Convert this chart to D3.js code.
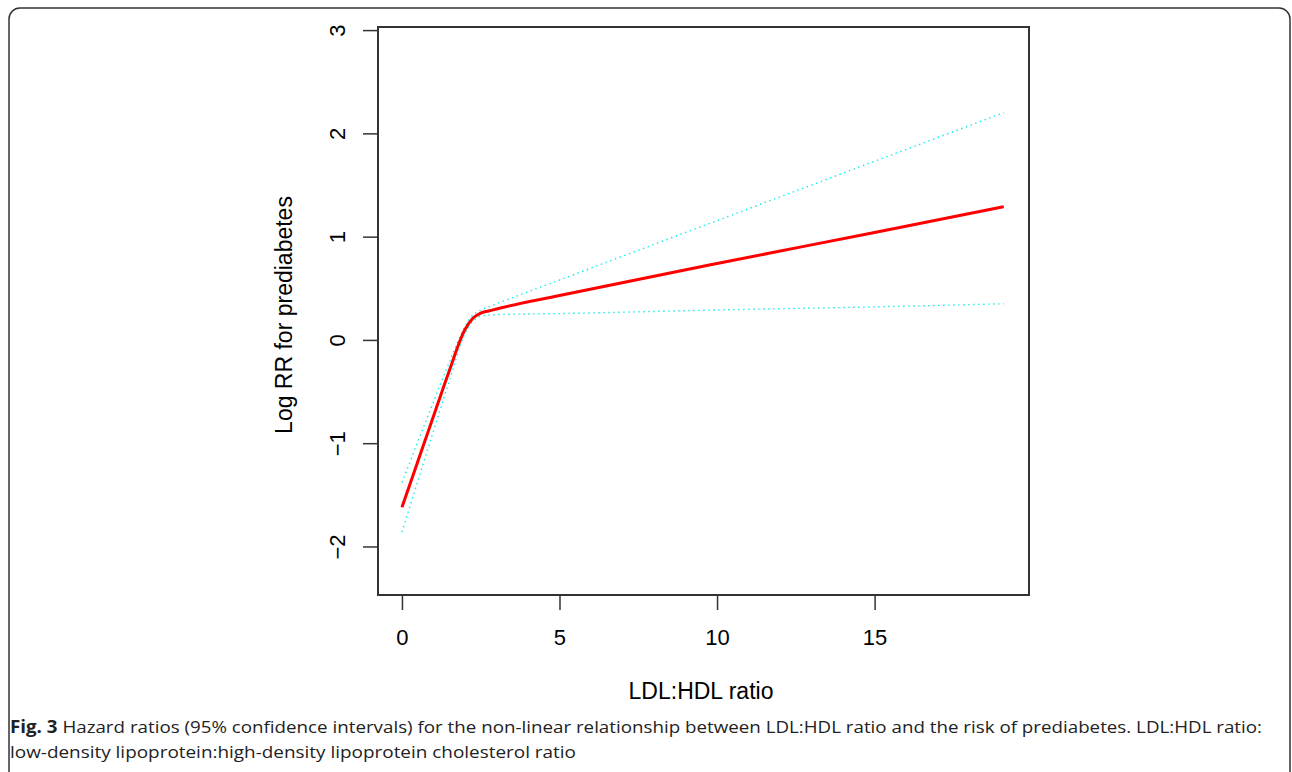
<!DOCTYPE html>
<meta charset="utf-8">
<style>
body{margin:0;background:#fff;}
svg text{font-family:"Liberation Sans", Arial, sans-serif;fill:#000;}
svg text.cap{font-family:"Open Sans", sans-serif;font-size:17px;fill:#222;}
</style>
<svg id="chart" width="1292" height="772"></svg>
<script src="https://d3js.org/d3.v7.min.js"></script>
<script>
// spline estimate
const X_VALUES = [0, 0.5, 1, 1.5, 2, 2.25, 2.5, 2.75, 3, 5, 10, 15, 19.1]
const FIT      = [-1.62, -1.18, -0.74, -0.30, 0.10, 0.21, 0.26, 0.28, 0.30, 0.43, 0.74, 1.04, 1.29]
const UPPER    = [-1.38, -0.99, -0.60, -0.22, 0.13, 0.24, 0.29, 0.32, 0.35, 0.58, 1.155, 1.73, 2.20]
const LOWER    = [-1.86, -1.37, -0.88, -0.40, 0.06, 0.18, 0.23, 0.24, 0.245, 0.255, 0.29, 0.32, 0.35]
const X_TICKS = [0, 5, 10, 15]
const Y_TICKS = [-2, -1, 0, 1, 2, 3]

let svg = d3.select('#chart')

// outer panel frame (runs off the right and bottom edges)
svg.append('rect')
  .attr('x', 9).attr('y', 8).attr('width', 1281).attr('height', 790)
  .attr('rx', 11)
  .attr('fill', 'none').attr('stroke', '#333').attr('stroke-width', 1.5)

let box = {left: 378, top: 27, right: 1029, bottom: 595}
let x = d3.scaleLinear().domain([-0.76, 19.9]).range([box.left, box.right])
let y = d3.scaleLinear().domain([-2.47, 3.03]).range([box.bottom, box.top])

svg.append('rect')
  .attr('x', box.left).attr('y', box.top)
  .attr('width', box.right - box.left).attr('height', box.bottom - box.top)
  .attr('fill', 'none').attr('stroke', '#333').attr('stroke-width', 2)

// x axis, R style: ticks hang below the box
let xAxis = svg.append('g')
  .attr('transform', `translate(0,${box.bottom + 1})`)
  .call(d3.axisBottom(x).tickValues(X_TICKS).tickSize(14).tickPadding(0).tickFormat(d3.format('d')))
xAxis.select('.domain').remove()
xAxis.selectAll('line').attr('stroke', '#333').attr('stroke-width', 1.5)
xAxis.selectAll('text')
  .style('font-size', '22px').attr('fill', '#111')
  .attr('y', 49).attr('dy', 0)

let yAxis = svg.append('g')
  .attr('transform', `translate(${box.left},0)`)
  .call(d3.axisLeft(y).tickValues(Y_TICKS).tickSize(15).tickFormat(d => d < 0 ? '\u2212' + Math.abs(d) : d))
yAxis.select('.domain').remove()
yAxis.selectAll('line').attr('stroke', '#333').attr('stroke-width', 1.5)
yAxis.selectAll('text')
  .style('font-size', '22px').attr('fill', '#111')
  .attr('x', 0).attr('dy', 0)
  .attr('text-anchor', 'middle')
  .attr('transform', 'translate(-41,0) rotate(-90)')
  .attr('dominant-baseline', 'central')

// axis titles
svg.append('text')
  .attr('x', 701).attr('y', 699)
  .attr('text-anchor', 'middle')
  .style('font-size', '23px')
  .text('LDL:HDL ratio')

svg.append('text')
  .attr('transform', 'translate(292,315) rotate(-90)')
  .attr('text-anchor', 'middle')
  .style('font-size', '23px')
  .text('Log RR for prediabetes')

// curves
let rows = X_VALUES.map((v, i) => ({x: v, fit: FIT[i], up: UPPER[i], lo: LOWER[i]}))
let lineOf = key => d3.line().x(d => x(d.x)).y(d => y(d[key])).curve(d3.curveMonotoneX)

;['up', 'lo'].forEach(k => {
  svg.append('path')
    .datum(rows)
    .attr('d', lineOf(k))
    .attr('fill', 'none')
    .attr('stroke', '#00eeee')
    .attr('stroke-width', 1.4)
    .attr('stroke-dasharray', '1.4,3.6')
})

svg.append('path')
  .datum(rows)
  .attr('d', lineOf('fit'))
  .attr('fill', 'none')
  .attr('stroke', '#ff0000')
  .attr('stroke-width', 3)

// caption
let cap1 = svg.append('text').attr('class', 'cap')
  .attr('x', 10).attr('y', 733)
  .attr('textLength', 1252).attr('lengthAdjust', 'spacingAndGlyphs')
cap1.append('tspan').style('font-weight', 'bold').text('Fig. 3')
cap1.append('tspan').text(' Hazard ratios (95% confidence intervals) for the non-linear relationship between LDL:HDL ratio and the risk of prediabetes. LDL:HDL ratio:')

svg.append('text').attr('class', 'cap')
  .attr('x', 10).attr('y', 758)
  .attr('textLength', 566).attr('lengthAdjust', 'spacingAndGlyphs')
  .text('low-density lipoprotein:high-density lipoprotein cholesterol ratio')
</script>
